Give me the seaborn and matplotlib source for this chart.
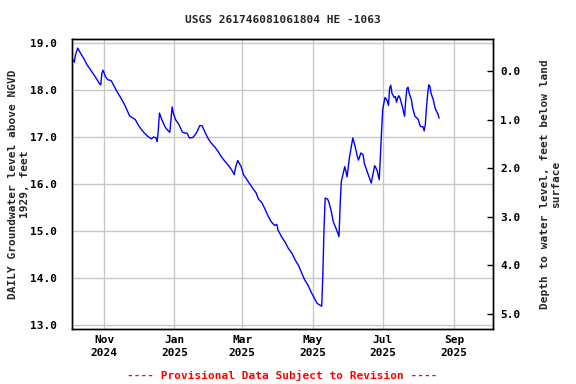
import matplotlib
matplotlib.use("Agg")
import matplotlib.pyplot as plt
import matplotlib.dates as mdates
import seaborn as sns
import pandas as pd
from matplotlib.ticker import FormatStrFormatter

title = "USGS 261746081061804 HE -1063"
left_label = "DAILY Groundwater level above NGVD\n1929, feet"
right_label = "Depth to water level, feet below land\nsurface"
footer = "---- Provisional Data Subject to Revision ----"

dates = [
    "2024-10-05", "2024-10-06", "2024-10-07", "2024-10-09", "2024-10-11", "2024-10-14",
    "2024-10-17", "2024-10-20", "2024-10-22", "2024-10-25", "2024-10-28", "2024-10-29",
    "2024-10-30", "2024-10-31", "2024-11-02", "2024-11-04", "2024-11-07", "2024-11-09",
    "2024-11-12", "2024-11-15", "2024-11-18", "2024-11-20", "2024-11-23", "2024-11-28",
    "2024-12-01", "2024-12-03", "2024-12-06", "2024-12-09", "2024-12-12", "2024-12-14",
    "2024-12-16", "2024-12-17", "2024-12-18", "2024-12-19", "2024-12-21", "2024-12-24",
    "2024-12-27", "2024-12-28", "2024-12-29", "2024-12-30", "2024-12-31", "2025-01-02",
    "2025-01-05", "2025-01-08", "2025-01-11", "2025-01-12", "2025-01-14", "2025-01-17",
    "2025-01-20", "2025-01-23", "2025-01-25", "2025-01-28", "2025-01-30", "2025-02-02",
    "2025-02-05", "2025-02-08", "2025-02-11", "2025-02-14", "2025-02-17", "2025-02-20",
    "2025-02-22", "2025-02-23", "2025-02-25", "2025-02-28", "2025-03-02", "2025-03-05",
    "2025-03-07", "2025-03-10", "2025-03-13", "2025-03-15", "2025-03-18", "2025-03-21",
    "2025-03-23", "2025-03-26", "2025-03-29", "2025-03-31", "2025-04-01", "2025-04-04",
    "2025-04-07", "2025-04-10", "2025-04-13", "2025-04-16", "2025-04-19", "2025-04-21",
    "2025-04-24", "2025-04-27", "2025-04-30", "2025-05-03", "2025-05-05", "2025-05-07",
    "2025-05-09", "2025-05-10", "2025-05-11", "2025-05-12", "2025-05-14", "2025-05-15",
    "2025-05-17", "2025-05-19", "2025-05-22", "2025-05-24", "2025-05-25", "2025-05-26",
    "2025-05-28", "2025-05-29", "2025-05-30", "2025-05-31", "2025-06-02", "2025-06-03",
    "2025-06-05", "2025-06-07", "2025-06-09", "2025-06-10", "2025-06-12", "2025-06-14",
    "2025-06-15", "2025-06-17", "2025-06-19", "2025-06-21", "2025-06-23", "2025-06-24",
    "2025-06-26", "2025-06-28", "2025-06-29", "2025-06-30", "2025-07-01", "2025-07-02",
    "2025-07-03", "2025-07-04", "2025-07-05", "2025-07-06", "2025-07-07", "2025-07-08",
    "2025-07-09", "2025-07-11", "2025-07-12", "2025-07-13", "2025-07-14", "2025-07-15",
    "2025-07-16", "2025-07-17", "2025-07-18", "2025-07-19", "2025-07-20", "2025-07-21",
    "2025-07-22", "2025-07-23", "2025-07-24", "2025-07-26", "2025-07-27", "2025-07-29",
    "2025-07-30", "2025-08-01", "2025-08-02", "2025-08-03", "2025-08-05", "2025-08-06",
    "2025-08-07", "2025-08-08", "2025-08-09", "2025-08-10", "2025-08-11", "2025-08-12",
    "2025-08-14", "2025-08-15", "2025-08-16", "2025-08-18", "2025-08-19",
]
levels = [
    18.64, 18.59, 18.75, 18.89, 18.80, 18.68,
    18.54, 18.43, 18.36, 18.25, 18.13, 18.11,
    18.36, 18.42, 18.29, 18.22, 18.20, 18.11,
    17.97, 17.85, 17.72, 17.62, 17.45, 17.37,
    17.24, 17.17, 17.08, 17.01, 16.96, 17.00,
    16.98, 16.90, 17.15, 17.51, 17.37, 17.21,
    17.12, 17.10, 17.37, 17.64, 17.51, 17.37,
    17.26, 17.10, 17.08, 17.08, 16.98, 16.99,
    17.08, 17.24, 17.24, 17.08, 16.98, 16.87,
    16.79, 16.69, 16.57, 16.48, 16.39, 16.29,
    16.20, 16.34, 16.50, 16.37, 16.20, 16.09,
    16.02, 15.91, 15.81, 15.68, 15.60, 15.45,
    15.34, 15.20, 15.12, 15.14, 15.02, 14.88,
    14.77, 14.63, 14.53, 14.38, 14.26, 14.14,
    13.97, 13.85, 13.69, 13.55, 13.46, 13.43,
    13.40, 14.10, 15.06, 15.70, 15.68, 15.63,
    15.45, 15.20, 15.02, 14.88, 15.56, 16.05,
    16.27, 16.37, 16.27, 16.15, 16.55, 16.69,
    16.98, 16.80, 16.58, 16.51, 16.66, 16.62,
    16.44, 16.30, 16.16, 16.02, 16.27, 16.39,
    16.30, 16.09, 16.62, 17.12, 17.58, 17.72,
    17.84, 17.81, 17.76, 17.67, 18.04, 18.10,
    17.93, 17.84, 17.86, 17.74, 17.83, 17.88,
    17.83, 17.74, 17.65, 17.54, 17.44, 17.79,
    18.03, 18.06, 17.93, 17.79, 17.62, 17.44,
    17.42, 17.37, 17.27, 17.22, 17.22, 17.13,
    17.26, 17.62, 17.90, 18.11, 18.08, 17.93,
    17.79, 17.67, 17.58, 17.49, 17.40,
]
left_ticks = [13.0, 14.0, 15.0, 16.0, 17.0, 18.0, 19.0]
right_ticks = [0.0, 1.0, 2.0, 3.0, 4.0, 5.0]
x_tick_dates = ["2024-11-01", "2025-01-01", "2025-03-01", "2025-05-01", "2025-07-01", "2025-09-01"]
x_tick_labels = ["Nov\n2024", "Jan\n2025", "Mar\n2025", "May\n2025", "Jul\n2025", "Sep\n2025"]

sns.set_style("white")
plt.rcParams["font.family"] = ["DejaVu Sans Mono"]
plt.rcParams["font.weight"] = "bold"
FS = 8

df = pd.DataFrame({"date": pd.to_datetime(dates), "level": levels})

fig = plt.figure(figsize=(5.76, 3.84), dpi=100)
ax = fig.add_axes([72 / 576, 55 / 384, 421 / 576, 290 / 384])

sns.lineplot(data=df, x="date", y="level", ax=ax, color="#0000ff", linewidth=1.0)

ax.set_xlim(pd.Timestamp("2024-10-04"), pd.Timestamp("2025-10-04 20:00"))
ax.set_ylim(12.915, 19.085)
ax.set_yticks(left_ticks)
ax.yaxis.set_major_formatter(FormatStrFormatter("%.1f"))
ax.set_xticks(pd.to_datetime(x_tick_dates))
ax.set_xticklabels(x_tick_labels, linespacing=1.45)
ax.grid(True, color="#c8c8c8", linewidth=1.0)
ax.set_axisbelow(True)
ax.set_xlabel("")
ax.set_ylabel(left_label, fontsize=FS, fontweight="bold", labelpad=0, linespacing=1.2)
ax.tick_params(axis="both", labelsize=FS, length=0, pad=4, colors="black")
ax.tick_params(axis="y", pad=11)
for s in ax.spines.values():
    s.set_color("black")
    s.set_linewidth(1.0)

ax2 = ax.twinx()
ax2.set_ylim(5.31, -0.669)
ax2.set_yticks(right_ticks)
ax2.yaxis.set_major_formatter(FormatStrFormatter("%.1f"))
ax2.tick_params(axis="y", direction="in", length=4, width=1, labelsize=FS, pad=5, colors="black")
ax2.set_ylabel(right_label, fontsize=FS, fontweight="bold", labelpad=14, linespacing=1.2)
ax2.grid(False)
for s in ax2.spines.values():
    s.set_color("black")
    s.set_linewidth(1.0)

for lab in ax.get_xticklabels() + ax.get_yticklabels() + ax2.get_yticklabels():
    lab.set_fontweight("bold")

fig.text(282.5 / 576, 1 - 20 / 384, title, ha="center", va="center", fontsize=FS, fontweight="bold")
fig.text(282.5 / 576, 1 - 375 / 384, footer, ha="center", va="center", fontsize=FS,
         fontweight="bold", color="#ff0000")

fig.savefig("out.png", dpi=100, facecolor="white")
